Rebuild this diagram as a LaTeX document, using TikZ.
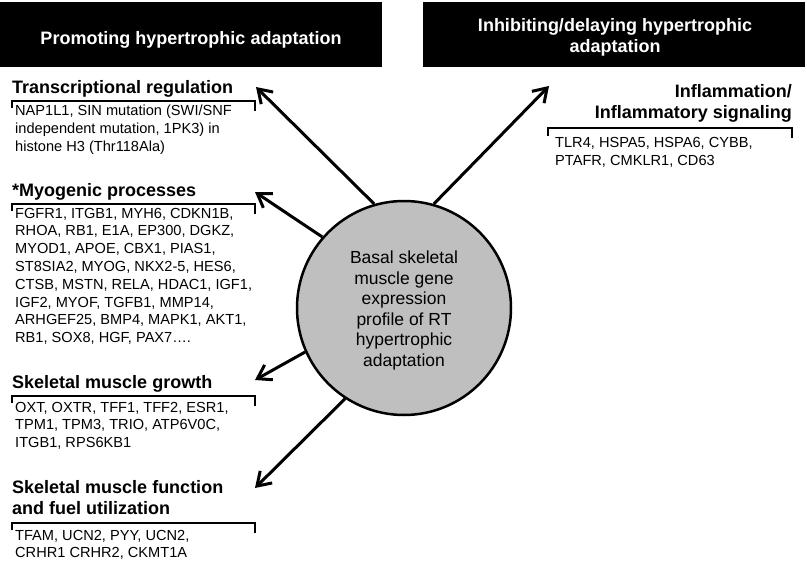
\documentclass[tikz,border=0pt]{standalone}
\usepackage{fontspec}
\setmainfont{Liberation Sans}
\usetikzlibrary{arrows.meta}
\tikzset{
  titlebox/.style={fill=black, draw=none},
  titletext/.style={text=white, font=\bfseries\fontsize{18}{20.5}\selectfont, inner sep=0pt, align=center},
  heading/.style={font=\bfseries\fontsize{18}{20.5}\selectfont, inner sep=0pt},
  genes/.style={font=\fontsize{14.6}{17.8}\selectfont, inner sep=0pt, align=left, anchor=north west},
  bracket/.style={line width=1.5pt},
  arr/.style={line width=3pt, -{Straight Barb[length=13pt,width=17pt]}},
  hub/.style={circle, draw=black, line width=2.5pt, fill=black!25, minimum size=214pt, inner sep=0pt},
  hubtext/.style={font=\fontsize{17.5}{20.6}\selectfont, inner sep=0pt, align=center}
}
\begin{document}
\begin{tikzpicture}[x=1pt, y=-1pt]
\useasboundingbox (0,0) rectangle (807,562);
% title boxes
\fill[titlebox] (0,2) rectangle (382,67);
\fill[titlebox] (423,2) rectangle (805,67);
\node[titletext, anchor=base] (tl) at (191,44) {Promoting hypertrophic adaptation};
\node[titletext, anchor=north] (tr) at (615,18.6) {Inhibiting/delaying hypertrophic\\adaptation};
% hub
\node[hub] (c) at (404,308) {};
\node[hubtext] (ct) at (404,310.4) {Basal skeletal\\muscle gene\\expression\\profile of RT\\hypertrophic\\adaptation};
% left side
\node[heading, anchor=base west] (h1) at (12,93.4) {Transcriptional regulation};
\draw[bracket] (12,108) -- (12,101) -- (255,101) -- (255,111);
\node[genes] (g1) at (15,104.8) {NAP1L1, SIN mutation (SWI/SNF\\independent mutation, 1PK3) in\\histone H3 (Thr118Ala)};

\node[heading, anchor=base west] (h2) at (12,196.4) {*Myogenic processes};
\draw[bracket] (12,211) -- (12,204) -- (255,204) -- (255,214);
\node[genes] (g2) at (15,207.8) {FGFR1, ITGB1, MYH6, CDKN1B,\\RHOA, RB1, E1A, EP300, DGKZ,\\MYOD1, APOE, CBX1, PIAS1,\\ST8SIA2, MYOG, NKX2-5, HES6,\\CTSB, MSTN, RELA, HDAC1, IGF1,\\IGF2, MYOF, TGFB1, MMP14,\\ARHGEF25, BMP4, MAPK1, AKT1,\\RB1, SOX8, HGF, PAX7\dots.};

\node[heading, anchor=base west] (h3) at (12,388.4) {Skeletal muscle growth};
\draw[bracket] (12,403) -- (12,396) -- (255,396) -- (255,406);
\node[genes] (g3) at (15,401.8) {OXT, OXTR, TFF1, TFF2, ESR1,\\TPM1, TPM3, TRIO, ATP6V0C,\\ITGB1, RPS6KB1};

\node[heading, anchor=north west, align=left] (h4) at (12,480.6) {Skeletal muscle function\\and fuel utilization};
\draw[bracket] (12,530) -- (12,523) -- (255,523) -- (255,533);
\node[genes] (g4) at (15,529.8) {TFAM, UCN2, PYY, UCN2,\\CRHR1 CRHR2, CKMT1A};

% right side
\node[heading, anchor=north east, align=right] (h5) at (792,84.6) {Inflammation/\\Inflammatory signaling};
\draw[bracket] (548,136) -- (548,128) -- (792,128) -- (792,138);
\node[genes] (g5) at (555,137.3) {TLR4, HSPA5, HSPA6, CYBB,\\PTAFR, CMKLR1, CD63};

% arrow tips
\coordinate (t1) at (256,87);
\coordinate (t2) at (255,192);
\coordinate (t3) at (255,380);
\coordinate (t4) at (255,488);
\coordinate (t5) at (549,86);
\draw[arr] (c.106.8) -- (t1);
\draw[arr] (c.139.9) -- (t2);
\draw[arr] (c.204) -- (t3);
\draw[arr] (c.237.7) -- (t4);
\draw[arr] (c.74.3) -- (t5);
\end{tikzpicture}
\end{document}
